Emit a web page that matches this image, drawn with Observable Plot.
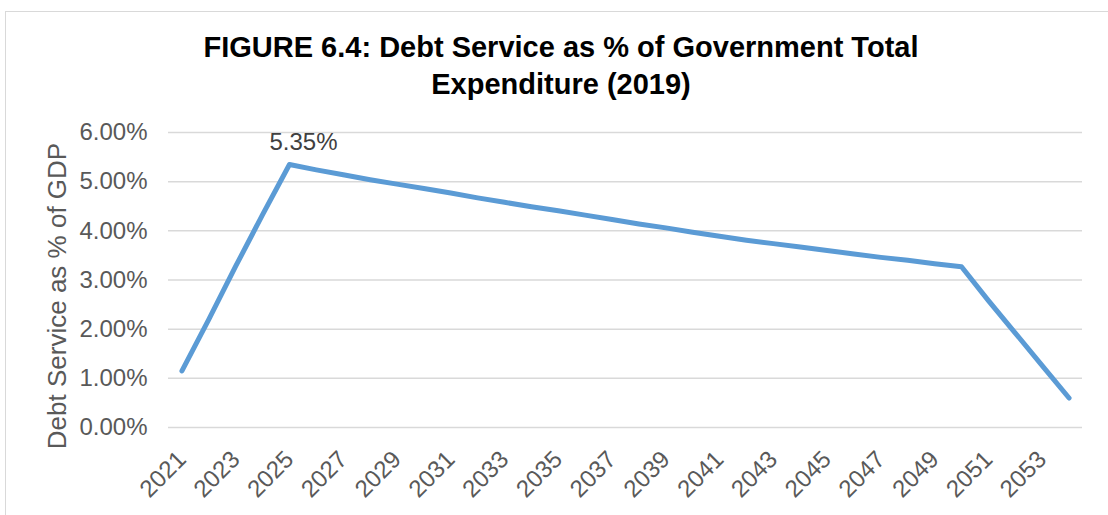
<!DOCTYPE html>
<html><head><meta charset="utf-8">
<script src="https://cdn.jsdelivr.net/npm/d3@7"></script>
<script src="https://cdn.jsdelivr.net/npm/@observablehq/plot@0.6"></script>
<style>
html,body{margin:0;padding:0;background:#fff;overflow:hidden;}
#wrap{position:relative;width:1108px;height:515px;overflow:hidden;font-family:"Liberation Sans",Arial,sans-serif;}
#frame{position:absolute;left:5px;top:11px;width:1200px;height:600px;border:1px solid #d9d9d9;box-sizing:border-box;pointer-events:none;}
#title{height:100px;box-sizing:border-box;padding-top:29px;padding-left:14px;text-align:center;font-weight:bold;font-size:29px;line-height:37px;color:#000;}
#chart svg{display:block;}
</style></head><body>
<div id="wrap"><div id="frame"></div><div id="title">FIGURE 6.4: Debt Service as % of Government Total<br>Expenditure (2019)</div><div id="chart"></div></div>
<script>
const years = [2021,2022,2023,2024,2025,2026,2027,2028,2029,2030,2031,2032,2033,2034,2035,2036,2037,2038,2039,2040,2041,2042,2043,2044,2045,2046,2047,2048,2049,2050,2051,2052,2053,2054];
const debtService = [1.15,2.20,3.28,4.33,5.35,5.24,5.14,5.04,4.95,4.86,4.77,4.67,4.58,4.49,4.41,4.32,4.23,4.14,4.06,3.97,3.89,3.81,3.74,3.67,3.60,3.53,3.46,3.40,3.33,3.27,2.58,1.92,1.26,0.60];
const xTickYears = [2021,2023,2025,2027,2029,2031,2033,2035,2037,2039,2041,2043,2045,2047,2049,2051,2053];
const yTicks = [0,1,2,3,4,5,6];
const labelledYears = [2025];
const yTitle = "Debt Service as % of GDP";

const data = years.map((year, i) => ({year, value: debtService[i]}));
const pct = d => d.toFixed(2) + "%";

const chart = Plot.plot({
  width: 1108, height: 415,
  marginTop: 32, marginBottom: 88, marginLeft: 168, marginRight: 26,
  style: {fontFamily: "'Liberation Sans', Arial, sans-serif", fontSize: "24px", color: "#595959", background: "transparent", overflow: "visible"},
  x: {type: "point", domain: years, padding: 0.5, round: false},
  y: {domain: [0, 6]},
  marks: [
    Plot.ruleY(yTicks, {stroke: "#d9d9d9", strokeWidth: 1.5}),
    Plot.axisY(yTicks, {tickSize: 0, tickPadding: 21, tickFormat: pct, label: null, fontSize: 24}),
    Plot.axisX(xTickYears, {tickSize: 0, tickRotate: -45, tickPadding: 28, tickFormat: d => String(d), label: null, fontSize: 24}),
    Plot.line(data, {x: "year", y: "value", stroke: "#5b9bd5", strokeWidth: 5, strokeLinecap: "round", strokeLinejoin: "round"}),
    Plot.text(data.filter(d => labelledYears.includes(d.year)), {x: "year", y: "value", text: d => pct(d.value), dx: 14, dy: -22, fill: "#404040", fontSize: 24}),
    Plot.text([yTitle], {frameAnchor: "left", textAnchor: "middle", rotate: -90, dx: -111, dy: 16, fill: "#595959", fontSize: 26})
  ]
});
document.getElementById("chart").appendChild(chart);
</script>
</body></html>
